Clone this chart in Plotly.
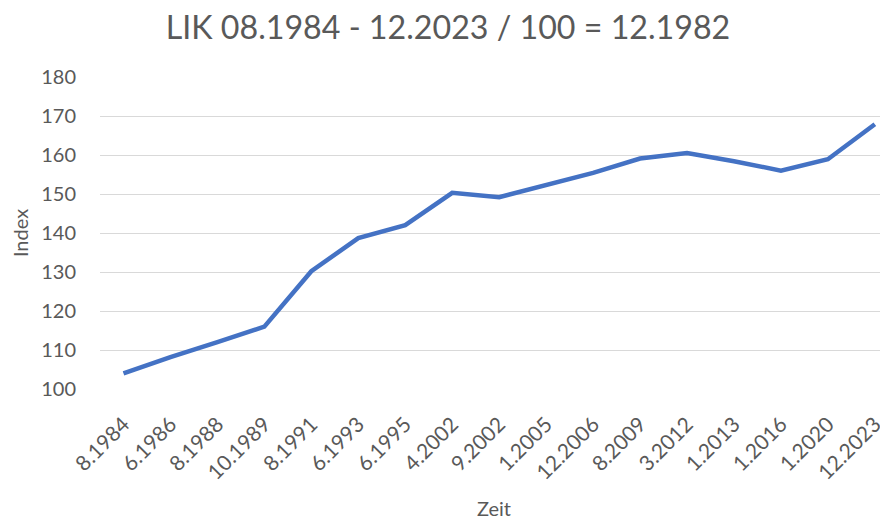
import plotly.graph_objects as go

categories = ["8.1984", "6.1986", "8.1988", "10.1989", "8.1991", "6.1993", "6.1995",
              "4.2002", "9.2002", "1.2005", "12.2006", "8.2009", "3.2012", "1.2013",
              "1.2016", "1.2020", "12.2023"]
index_values = [104.0, 108.2, 112.0, 116.0, 130.2, 138.7, 142.0,
                150.3, 149.2, 152.3, 155.4, 159.1, 160.5, 158.4,
                156.0, 158.9, 167.9]

title_text = "LIK 08.1984 - 12.2023 / 100 = 12.1982"
grey = "#595959"
font_family = "Lato, 'Open Sans', sans-serif"

# The page body has an 8px default margin, so the figure is 8px smaller
# and its margins are reduced by 8px to line up with the 888x520 window.
fig = go.Figure()
fig.add_trace(go.Scatter(
    x=list(range(len(categories))), y=index_values, mode="lines",
    line=dict(color="#4472C4", width=4.5), showlegend=False, hoverinfo="skip"))

fig.update_layout(
    width=880, height=512,
    margin=dict(l=92, r=0, t=69, b=131, autoexpand=False),
    paper_bgcolor="white", plot_bgcolor="white",
    font=dict(family=font_family, color=grey, size=19),
    title=dict(text=title_text, x=0.5, xanchor="center", y=0.962, yanchor="middle",
               font=dict(size=32.2, color=grey, family=font_family)),
    xaxis=dict(
        tickmode="array", tickvals=list(range(len(categories))), ticktext=categories,
        range=[-0.5, 16.28], tickangle=-45, showgrid=False, zeroline=False,
        showline=False, ticks="", tickfont=dict(size=21, color=grey),
        automargin=False, ticklabelstandoff=18,
        title=dict(text="Zeit", font=dict(size=20, color=grey), standoff=20)),
    yaxis=dict(
        range=[100, 180], dtick=10, showgrid=True, gridcolor="#D9D9D9", gridwidth=1.3,
        zeroline=False, showline=False, ticks="", tickfont=dict(size=20, color=grey),
        ticklabelstandoff=23, automargin=False,
        title=dict(text="Index", font=dict(size=20, color=grey), standoff=11)),
)

fig.write_html("out.html")
